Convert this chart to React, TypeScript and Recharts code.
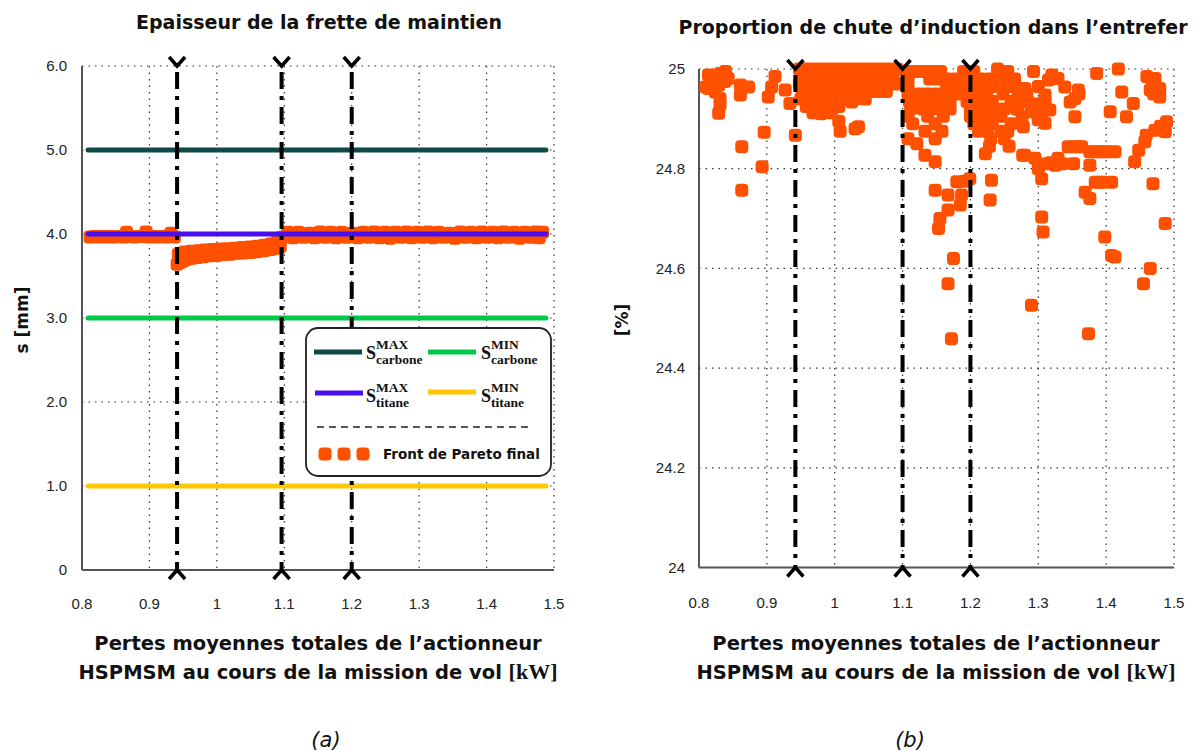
import React from 'react';
import { ScatterChart, Scatter, XAxis, YAxis, CartesianGrid, ReferenceLine } from 'recharts';

// ---------- shared axis data ----------
const xTicks = [0.8, 0.9, 1.0, 1.1, 1.2, 1.3, 1.4, 1.5];
const sTicks = [0, 1, 2, 3, 4, 5, 6];
const chuteTicks = [24, 24.2, 24.4, 24.6, 24.8, 25];
const markersA = [0.941, 1.096, 1.2];
const markersB = [0.942, 1.1, 1.2];

// ---------- limit lines (chart a) ----------
const limitNames = ['S carbone MAX', 'S carbone MIN', 'S titane MAX', 'S titane MIN'];
const limitValues = [5, 3, 4, 1];
const limitColors = ['#0f4a47', '#00c94a', '#4a0ff0', '#ffc800'];
const limitRange = [0.809, 1.488];

// ---------- Pareto front, thickness s [mm] (chart a) ----------
const fretteBand1: number[][] = [
  [0.812, 3.965], [0.818, 3.97], [0.824, 3.965], [0.83, 3.97], [0.836, 3.965], [0.842, 3.97],
  [0.848, 3.965], [0.856, 3.97], [0.862, 3.965], [0.866, 4.02], [0.872, 3.97], [0.878, 3.965],
  [0.886, 3.97], [0.895, 4.025], [0.9, 3.965], [0.906, 3.97], [0.912, 3.965], [0.918, 3.97],
  [0.924, 3.965], [0.932, 4.01], [0.937, 3.965],
];
const fretteCurveLow: number[][] = [
  [0.941, 3.64], [0.945, 3.66], [0.95, 3.68], [0.956, 3.7], [0.963, 3.71], [0.971, 3.72],
  [0.98, 3.73], [0.99, 3.74], [1.0, 3.745], [1.01, 3.755], [1.02, 3.76], [1.03, 3.77],
  [1.04, 3.775], [1.05, 3.78], [1.06, 3.79], [1.07, 3.8], [1.08, 3.815], [1.088, 3.83], [1.094, 3.85],
];
const fretteCurveHigh: number[][] = [
  [0.943, 3.76], [0.952, 3.785], [0.962, 3.795], [0.972, 3.8], [0.982, 3.81], [0.993, 3.815],
  [1.004, 3.82], [1.015, 3.825], [1.026, 3.83], [1.037, 3.84], [1.048, 3.845], [1.059, 3.855],
  [1.07, 3.865], [1.08, 3.88], [1.09, 3.92],
];
const fretteBand2: number[][] = [
  [1.097, 3.96], [1.105, 4.02], [1.113, 3.955], [1.121, 4.02], [1.129, 3.96], [1.137, 4.01],
  [1.145, 3.955], [1.153, 4.025], [1.161, 3.96], [1.169, 4.02], [1.177, 3.955], [1.185, 4.02],
  [1.193, 3.96], [1.201, 4.01], [1.209, 3.955], [1.217, 4.02], [1.225, 3.96], [1.233, 4.025],
  [1.241, 3.955], [1.249, 4.02], [1.257, 3.95], [1.265, 4.02], [1.273, 3.96], [1.281, 4.025],
  [1.289, 3.955], [1.297, 4.02], [1.305, 3.96], [1.313, 4.025], [1.321, 3.955], [1.329, 4.02],
  [1.337, 3.96], [1.345, 4.01], [1.353, 3.95], [1.361, 4.025], [1.369, 3.96], [1.377, 4.02],
  [1.385, 3.955], [1.393, 4.025], [1.401, 3.96], [1.409, 4.02], [1.417, 3.955], [1.425, 4.025],
  [1.433, 3.96], [1.441, 4.02], [1.449, 3.95], [1.457, 4.02], [1.465, 3.96], [1.473, 4.025],
  [1.478, 3.955], [1.483, 4.02],
];

// ---------- Pareto front, induction drop [%] (chart b) ----------
const chuteLeft: number[][] = [
  [0.81, 24.964], [0.814, 24.988], [0.814, 24.961], [0.82, 24.975], [0.831, 24.991], [0.839, 24.995],
  [0.838, 24.975], [0.843, 24.981], [0.829, 24.968], [0.824, 24.954], [0.831, 24.941], [0.831, 24.928],
  [0.829, 24.911], [0.861, 24.968], [0.873, 24.964], [0.861, 24.948], [0.863, 24.844], [0.863, 24.757],
  [0.893, 24.804], [0.896, 24.873], [0.912, 24.985], [0.907, 24.964], [0.902, 24.944], [0.927, 24.958],
  [0.934, 24.931], [0.942, 24.867],
];
const chuteCoreA: number[][] = [
  [0.948, 25.0], [0.96, 25.0], [0.972, 25.0], [0.984, 25.0], [0.996, 25.0], [1.008, 25.0], [1.02, 25.0],
  [1.032, 25.0], [1.044, 25.0], [1.056, 25.0], [1.068, 25.0], [1.08, 25.0], [1.092, 25.0],
  [0.952, 24.985], [0.965, 24.985], [0.978, 24.985], [0.99, 24.985], [1.002, 24.985], [1.014, 24.985],
  [1.026, 24.985], [1.038, 24.985], [1.05, 24.985], [1.062, 24.985], [1.074, 24.985], [1.086, 24.985],
  [0.948, 24.97], [0.96, 24.97], [0.972, 24.97], [0.984, 24.97], [0.996, 24.97], [1.008, 24.97],
  [1.02, 24.97], [1.032, 24.97], [1.044, 24.97], [1.056, 24.97], [1.068, 24.97], [1.08, 24.97], [1.093, 24.97],
  [0.952, 24.955], [0.965, 24.955], [0.978, 24.955], [0.99, 24.955], [1.002, 24.955], [1.014, 24.955],
  [1.026, 24.955], [1.04, 24.955], [1.052, 24.955], [1.064, 24.955], [1.076, 24.955],
  [0.95, 24.94], [0.962, 24.94], [0.975, 24.94], [0.99, 24.94], [1.0, 24.94], [1.012, 24.94],
  [1.03, 24.94], [1.045, 24.94], [0.958, 24.925], [0.97, 24.925], [0.982, 24.925], [0.994, 24.925],
  [1.006, 24.925], [0.968, 24.912], [0.98, 24.91], [0.995, 24.912], [1.006, 24.895], [1.008, 24.875],
  [1.025, 24.934], [1.03, 24.88], [1.035, 24.884],
];
const chuteCoreB: number[][] = [
  [1.108, 24.995], [1.12, 24.995], [1.132, 24.995], [1.144, 24.995], [1.156, 24.995], [1.19, 24.995],
  [1.205, 24.995], [1.24, 25.0], [1.255, 24.995],
  [1.108, 24.98], [1.14, 24.98], [1.152, 24.98], [1.165, 24.98], [1.178, 24.98], [1.19, 24.98],
  [1.202, 24.98], [1.215, 24.98], [1.228, 24.98], [1.24, 24.98], [1.252, 24.98], [1.265, 24.98],
  [1.108, 24.965], [1.165, 24.965], [1.178, 24.965], [1.19, 24.965], [1.202, 24.965], [1.214, 24.965],
  [1.226, 24.965], [1.238, 24.965], [1.25, 24.965], [1.262, 24.965],
  [1.108, 24.95], [1.125, 24.95], [1.137, 24.95], [1.15, 24.95], [1.162, 24.95], [1.175, 24.95],
  [1.187, 24.95], [1.2, 24.95], [1.212, 24.95], [1.224, 24.95], [1.248, 24.95], [1.27, 24.95],
  [1.11, 24.935], [1.122, 24.935], [1.134, 24.935], [1.146, 24.935], [1.158, 24.935], [1.17, 24.935],
  [1.195, 24.935], [1.207, 24.935], [1.22, 24.935], [1.232, 24.935], [1.26, 24.935],
  [1.112, 24.92], [1.13, 24.92], [1.142, 24.92], [1.155, 24.92], [1.17, 24.92], [1.2, 24.92],
  [1.212, 24.92], [1.225, 24.92], [1.238, 24.92], [1.25, 24.92], [1.268, 24.92],
  [1.108, 24.905], [1.137, 24.905], [1.16, 24.905], [1.2, 24.905], [1.215, 24.905], [1.23, 24.905], [1.245, 24.905],
  [1.115, 24.89], [1.148, 24.89], [1.205, 24.89], [1.218, 24.89], [1.232, 24.89], [1.26, 24.89],
  [1.133, 24.875], [1.158, 24.875], [1.212, 24.875], [1.225, 24.875], [1.245, 24.875], [1.255, 24.875],
  [1.108, 24.86], [1.121, 24.85], [1.148, 24.86], [1.23, 24.86], [1.25, 24.86], [1.228, 24.845],
  [1.257, 24.845], [1.133, 24.827], [1.148, 24.814], [1.222, 24.83], [1.277, 24.827],
];
const chuteLow: number[][] = [
  [1.148, 24.757], [1.167, 24.747], [1.167, 24.717], [1.155, 24.7], [1.153, 24.68], [1.18, 24.774],
  [1.187, 24.747], [1.185, 24.727], [1.199, 24.78], [1.192, 24.775], [1.231, 24.777], [1.229, 24.737],
  [1.175, 24.62], [1.167, 24.569], [1.172, 24.459],
];
const chuteRight: number[][] = [
  [1.293, 24.995], [1.32, 24.988], [1.329, 24.981], [1.339, 24.964], [1.315, 24.978], [1.359, 24.958],
  [1.354, 24.941], [1.347, 24.934], [1.31, 24.948], [1.28, 24.961], [1.273, 24.954], [1.285, 24.934],
  [1.29, 24.914], [1.276, 24.904], [1.278, 24.884], [1.3, 24.898], [1.31, 24.891], [1.317, 24.918],
  [1.354, 24.904], [1.386, 24.991], [1.418, 25.0], [1.46, 24.985], [1.468, 24.975], [1.472, 24.981],
  [1.465, 24.958], [1.479, 24.961], [1.479, 24.944], [1.47, 24.95], [1.423, 24.954], [1.44, 24.931],
  [1.406, 24.914], [1.43, 24.904], [1.489, 24.894], [1.472, 24.877], [1.487, 24.874], [1.48, 24.885],
  [1.459, 24.867], [1.457, 24.854], [1.448, 24.837], [1.442, 24.814], [1.27, 24.94], [1.283, 24.95],
  [1.295, 24.93], [1.305, 24.91], [1.27, 24.92], [1.31, 24.935], [1.3, 24.965], [1.36, 24.95],
  [1.28, 24.827], [1.295, 24.821], [1.3, 24.8], [1.305, 24.78], [1.312, 24.81], [1.318, 24.812],
  [1.325, 24.807], [1.329, 24.821], [1.336, 24.81], [1.344, 24.844], [1.352, 24.844], [1.359, 24.844],
  [1.364, 24.844], [1.352, 24.81], [1.376, 24.834], [1.383, 24.834], [1.39, 24.834], [1.396, 24.834],
  [1.403, 24.834], [1.413, 24.834], [1.376, 24.807], [1.384, 24.773], [1.39, 24.773], [1.396, 24.773],
  [1.408, 24.773], [1.369, 24.753], [1.376, 24.74], [1.469, 24.77], [1.305, 24.703], [1.307, 24.673],
  [1.487, 24.69], [1.398, 24.663], [1.408, 24.626], [1.413, 24.623], [1.465, 24.6], [1.455, 24.569],
  [1.29, 24.526], [1.374, 24.469],
];

const ORANGE = '#ff5000';
const toPts = (arr: number[][]) => arr.map(([x, y]) => ({ x, y }));
const fretteData = toPts([...fretteBand1, ...fretteCurveLow, ...fretteCurveHigh, ...fretteBand2]);
const chuteData = toPts([...chuteLeft, ...chuteCoreA, ...chuteCoreB, ...chuteLow, ...chuteRight]);

const Marker = (p: any) => {
  const { cx, cy } = p;
  if (cx == null || cy == null) return <g />;
  return <rect x={cx - 6.5} y={cy - 6.5} width={13} height={13} rx={4} ry={4} fill={ORANGE} />;
};

const DashDot = (p: any) => {
  const { x1, y1, y2 } = p;
  if (x1 == null) return <g />;
  const top = Math.min(y1, y2);
  const bot = Math.max(y1, y2);
  return (
    <g>
      <line x1={x1} x2={x1} y1={top} y2={bot} stroke="#000" strokeWidth={4}
        strokeDasharray="17 7 4 7" strokeDashoffset={29} />
      <path d={`M${x1 - 8},${top - 9} L${x1},${top} L${x1 + 8},${top - 9}`} fill="none" stroke="#000" strokeWidth={3.5} />
      <path d={`M${x1 - 8},${bot + 9} L${x1},${bot} L${x1 + 8},${bot + 9}`} fill="none" stroke="#000" strokeWidth={3.5} />
    </g>
  );
};

const tickStyle = { fontFamily: 'Liberation Sans, Arial, sans-serif', fontSize: 15, fill: '#222' };
const fmtX = (v: number) => String(Number(v.toFixed(1)));
const fmtS = (v: number) => (v === 0 ? '0' : v.toFixed(1));
const fmtC = (v: number) => String(Number(v.toFixed(1)));

const SANS = 'DejaVu Sans, Verdana, sans-serif';
const SERIF = 'Liberation Serif, Times New Roman, serif';

const LegendSym = ({ x, y, sup, sub }: { x: number; y: number; sup: string; sub: string }) => (
  <g fontFamily={SERIF} fontWeight="bold" fill="#111">
    <text x={x} y={y} fontSize={18}>S</text>
    <text x={x + 10} y={y - 10} fontSize={13.5}>{sup}</text>
    <text x={x + 10} y={y + 5} fontSize={13.5}>{sub}</text>
  </g>
);

export default function App() {
  return (
    <div style={{ position: 'absolute', left: 0, top: 0, width: 1201, height: 751, background: '#fff' }}>
      <div style={{ position: 'absolute', left: 0, top: 0 }}>
        <ScatterChart width={600} height={620} margin={{ top: 66, right: 46, bottom: 20, left: 42 }}>
          <CartesianGrid stroke="#333" strokeDasharray="1.5 5" strokeWidth={1.2} />
          <XAxis type="number" dataKey="x" domain={[0.8, 1.5]} ticks={xTicks} tickFormatter={fmtX}
            height={30} tickLine={false} tickSize={4} tickMargin={24} tick={tickStyle}
            axisLine={{ stroke: '#555', strokeWidth: 2 }} allowDataOverflow />
          <YAxis type="number" dataKey="y" domain={[0, 6]} ticks={sTicks} tickFormatter={fmtS}
            width={40} tickLine={false} tickSize={4} tickMargin={11} tick={tickStyle}
            axisLine={{ stroke: '#555', strokeWidth: 2 }} />
          {[0, 1, 3].map((i) => (
            <ReferenceLine key={limitNames[i]} segment={[{ x: limitRange[0], y: limitValues[i] }, { x: limitRange[1], y: limitValues[i] }]}
              stroke={limitColors[i]} strokeWidth={5} strokeLinecap="round" zIndex={300} />
          ))}
          <Scatter data={fretteData} shape={Marker} isAnimationActive={false} />
          <ReferenceLine segment={[{ x: limitRange[0], y: limitValues[2] }, { x: limitRange[1], y: limitValues[2] }]}
            stroke={limitColors[2]} strokeWidth={5} strokeLinecap="round" zIndex={700} />
          {markersA.map((m) => (
            <ReferenceLine key={m} x={m} shape={DashDot} zIndex={800} />
          ))}
        </ScatterChart>
      </div>
      <div style={{ position: 'absolute', left: 600, top: 0 }}>
        <ScatterChart width={601} height={620} margin={{ top: 69, right: 27, bottom: 22.5, left: 59 }}>
          <CartesianGrid stroke="#333" strokeDasharray="1.5 5" strokeWidth={1.2} />
          <XAxis type="number" dataKey="x" domain={[0.8, 1.5]} ticks={xTicks} tickFormatter={fmtX}
            height={30} tickLine={false} tickSize={4} tickMargin={26} tick={tickStyle}
            axisLine={{ stroke: '#555', strokeWidth: 2 }} allowDataOverflow />
          <YAxis type="number" dataKey="y" domain={[24, 25]} ticks={chuteTicks} tickFormatter={fmtC}
            width={40} tickLine={false} tickSize={4} tickMargin={10} tick={tickStyle}
            axisLine={{ stroke: '#555', strokeWidth: 2 }} />
          <Scatter data={chuteData} shape={Marker} isAnimationActive={false} />
          {markersB.map((m) => (
            <ReferenceLine key={m} x={m} shape={DashDot} zIndex={800} />
          ))}
        </ScatterChart>
      </div>
      <svg width={1201} height={751} style={{ position: 'absolute', left: 0, top: 0, pointerEvents: 'none' }}>
        <g fontFamily={SANS} fontWeight="bold" fill="#111">
          <text x={319} y={29} fontSize={19} textAnchor="middle">Epaisseur de la frette de maintien</text>
          <text x={933} y={34} fontSize={19} textAnchor="middle">Proportion de chute d’induction dans l’entrefer</text>
          <text x={318} y={650} fontSize={19.5} textAnchor="middle">Pertes moyennes totales de l’actionneur</text>
          <text x={318} y={679} fontSize={19.5} textAnchor="middle">HSPMSM au cours de la mission de vol <tspan fontFamily={SERIF} fontSize={22}>[kW]</tspan></text>
          <text x={936} y={650} fontSize={19.5} textAnchor="middle">Pertes moyennes totales de l’actionneur</text>
          <text x={936} y={679} fontSize={19.5} textAnchor="middle">HSPMSM au cours de la mission de vol <tspan fontFamily={SERIF} fontSize={22}>[kW]</tspan></text>
          <text transform="translate(28,320) rotate(-90)" fontSize={17} textAnchor="middle">s [mm]</text>
          <text transform="translate(628,320) rotate(-90)" fontSize={17} textAnchor="middle">[%]</text>
        </g>
        <g fontFamily={SANS} fontStyle="italic" fill="#111">
          <text x={326} y={747} fontSize={21} textAnchor="middle">(a)</text>
          <text x={910} y={747} fontSize={21} textAnchor="middle">(b)</text>
        </g>
        {/* legend of chart (a) */}
        <rect x={306} y={328} width={245} height={148} rx={12} ry={12} fill="#fff" stroke="#222" strokeWidth={1.8} />
        <line x1={314} x2={362} y1={352} y2={352} stroke={limitColors[0]} strokeWidth={5} />
        <LegendSym x={366} y={359} sup="MAX" sub="carbone" />
        <line x1={428} x2={476} y1={352} y2={352} stroke={limitColors[1]} strokeWidth={5} />
        <LegendSym x={481} y={359} sup="MIN" sub="carbone" />
        <line x1={315} x2={363} y1={393} y2={393} stroke={limitColors[2]} strokeWidth={5} />
        <LegendSym x={366} y={402} sup="MAX" sub="titane" />
        <line x1={428} x2={476} y1={392} y2={392} stroke={limitColors[3]} strokeWidth={5} />
        <LegendSym x={481} y={402} sup="MIN" sub="titane" />
        <line x1={317} x2={531} y1={427} y2={427} stroke="#222" strokeWidth={1.5} strokeDasharray="7 5" />
        {[325, 344, 363].map((cx) => (
          <rect key={cx} x={cx - 6.5} y={447.5} width={13} height={13} rx={4} ry={4} fill={ORANGE} />
        ))}
        <text x={383} y={459} fontFamily={SANS} fontWeight="bold" fontSize={13.5} fill="#111">Front de Pareto final</text>
      </svg>
    </div>
  );
}
